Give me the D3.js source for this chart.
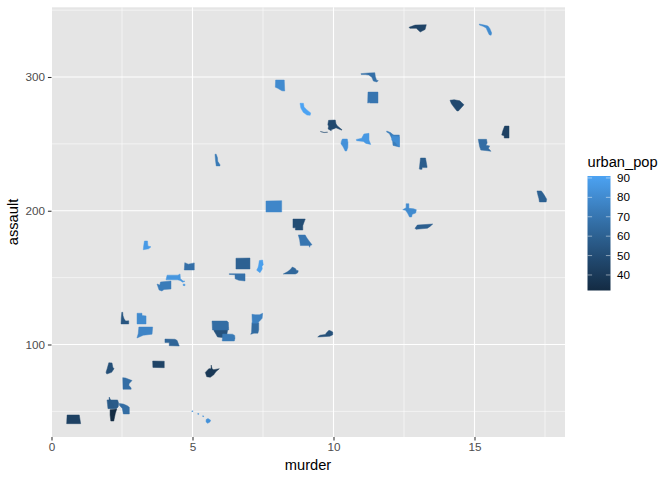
<!DOCTYPE html>
<html><head><meta charset="utf-8">
<script src="https://cdn.jsdelivr.net/npm/d3@7"></script>
<style>html,body{margin:0;padding:0;background:#fff}svg{display:block}text{font-family:"Liberation Sans",Arial,sans-serif}</style>
</head><body><svg id="c" width="672" height="480"></svg>
<script>
const states=["Alabama","Alaska","Arizona","Arkansas","California","Colorado","Connecticut","Delaware","Florida","Georgia","Hawaii","Idaho","Illinois","Indiana","Iowa","Montana","Kansas","Kentucky","Louisiana","Maine","Maryland","Massachusetts","Michigan","Minnesota","Mississippi","Missouri","Nebraska","Nevada","New Hampshire","New Jersey","New Mexico","New York","North Carolina","North Dakota","Ohio","Oklahoma","Oregon","Pennsylvania","Rhode Island","South Carolina","South Dakota","Tennessee","Texas","Utah","Vermont","Virginia","Washington","West Virginia","Wisconsin","Wyoming"];
const murder=[13.2,10,8.1,8.8,9,7.9,3.3,5.9,15.4,17.4,5.3,2.6,10.4,7.2,2.2,6,6,9.7,15.4,2.1,11.3,4.4,12.1,2.7,16.1,9,4.3,12.2,2.1,7.4,11.4,11.1,13,0.8,7.3,6.6,4.9,6.3,3.4,14.4,3.8,13.2,12.7,3.2,2.2,8.5,4,5.7,2.6,6.8];
const assault=[236,263,294,190,276,204,110,238,335,211,46,120,249,113,56,109,115,109,249,83,300,149,255,72,259,178,102,252,57,159,285,254,337,45,120,151,159,106,174,279,86,188,201,120,48,156,145,81,53,161];
const urbanPop=[58,48,80,50,91,78,77,72,80,60,83,54,83,65,57,53,66,52,66,51,67,85,74,66,44,70,62,81,56,89,70,86,45,44,75,68,67,72,87,48,45,59,80,80,32,63,73,39,66,60];
const xTicks=[0,5,10,15], yTicks=[100,200,300], legendTicks=[40,50,60,70,80,90];
// state footprint relative to its (murder, assault) point: left, top, width, height
const footprints=[[-4.4,-4.6,7.7,11.3],[-15.5,-6.5,24,12.7],[-4.6,-5,9.4,11],[-6.7,-5.1,12.3,11],[-5.3,-5.8,10.7,12],[-8.3,-4.7,15.7,11.3],[-7.6,-4.1,15.7,11],[-2.9,-5.7,5,11.7],[-6.5,-6.2,12.4,11.3],[-5.2,-5.1,9.7,11],[-9.3,-6,19,12.6],[-3.8,-5.5,7.7,11.7],[-3.8,-6.2,7,12],[-3.8,-4.4,8,11.6],[-6.5,-3.4,11.7,8.7],[-7.7,-5.5,15,10.5],[-8.7,-3.4,16.7,9],[-7.3,-2.5,15,7],[-7.5,-5.9,12.7,12],[-4.7,-4.5,8,11.3],[-9.2,-4.3,17.3,9.3],[-9.6,-5,19,11.7],[-6,-6.2,12.6,16],[-4.9,-4.3,9.3,11.6],[-3.8,-5.8,7.3,12],[-7,-5.2,13.7,12.3],[-7.8,-2.8,14.3,7],[-3.8,-5.5,7.6,11.3],[-2,-5,5,11],[-3.5,-5.6,6.6,12.7],[-5.3,-5,10.3,11],[-8.2,-5.2,14.4,11.7],[-9.1,-2.8,17.3,7.3],[-7.4,-3.1,14,8.7],[-5.4,-4.5,10.7,10],[-8.3,-2.6,15.7,7.3],[-5.4,-2.9,10,7.3],[-6.9,-2.5,12.7,7],[-4.1,-4.5,7.7,9.7],[-7.6,-5.4,14,11.3],[-6,-2.2,11.6,6.7],[-8.7,-2.8,17.7,5.3],[-6.9,-5.7,13.6,13.3],[-4.7,-4.5,9,10.7],[-4.2,-5,7.4,12],[-7.9,-2.6,15,7],[-7.3,-3.3,14,10],[-6.9,-4.9,14,12.3],[-5.5,-4.4,10,11],[-7.3,-4.9,14,11]];
// outlines in a 0–10 box, one list of rings per state
const outlines=[
[[[1.5,0],[8,0],[10,7.5],[10,8.5],[3.5,8.5],[3.5,10],[.5,10],[0,9.5]]],
[[[4.4,.3],[7.2,0],[7.5,3],[8,4.5],[10,7.7],[9.9,8],[7.5,6.2],[6.5,7],[5.6,7.5],[5.5,8.5],[4.2,7],[4.4,5],[4.1,3.5]],[[1,9],[2.5,9.8],[4,9.6],[4,9.7],[2.5,9.95],[1,9.1]]],
[[[.3,0],[9.5,0],[10,10],[7,9.8],[2.5,7.5],[0,6.5]]],
[[[0,0],[10,0],[9,3],[8,6],[8,10],[2,10],[2,8],[0,8]]],
[[[0,0],[3.2,0],[3.8,3],[6.5,5.5],[10,8],[9.5,10],[6.5,9.8],[3,7.5],[.8,4]]],
[[[0,.3],[10,0],[10,10],[0,10]]],
[[[1.2,0],[10,0],[9.6,6.5],[4,7.5],[0,10],[.8,6]]],
[[[0,0],[2.5,0],[5,3],[5.5,6],[10,9],[10,10],[2.5,10],[1,5]]],
[[[0,0],[5,1.2],[7,1.8],[8.5,4],[10,8],[9.5,10],[8,9.5],[6.5,6],[5.5,3.5],[3,2],[.2,1]]],
[[[0,0],[4.5,0],[7,3],[9,6],[10,7.5],[9.5,10],[2.5,10],[2,7],[1,4]]],
[[[7.6,7],[8.6,6.2],[10,7.5],[9.6,9],[8.4,10],[7.6,9]],[[0,.3],[.6,0],[.7,.6],[.2,.8]],[[3.2,2.2],[3.8,2.3],[3.7,2.9],[3.2,2.8]],[[5.8,4],[6.4,4.2],[6.3,4.7],[5.8,4.6]]],
[[[1,0],[2.2,0],[2.6,3],[4,5.5],[6,7.5],[10,7.3],[10,10],[0,10],[.3,5]]],
[[[2,0],[9,0],[10,3],[9.8,7],[8,10],[6,10],[3,6.5],[0,4],[.5,2]]],
[[[1.5,0],[10,0],[10,6],[9,9],[4,9],[0,10],[1,8.5]]],
[[[0,0],[9,0],[10,4],[9.5,8],[8,10],[.8,10],[.4,5]]],
[[[0,0],[10,0],[9.5,5],[9,9],[6,10],[3,9.5],[2,7],[.8,4]]],
[[[0,0],[9,0],[9.8,1.5],[10,10],[.3,10]]],
[[[0,10],[1.5,7.5],[5,6.5],[6,3.5],[7.5,.5],[8.8,1.5],[10,3],[10,7],[8,9],[.5,10]]],
[[[0,0],[6.5,0],[7,3],[6,5],[9,5.5],[8,7.5],[10,10],[7,9.5],[2,9],[1,6],[.5,3]]],
[[[3.5,0],[7.5,.2],[8.5,4],[10,5.3],[7,8.5],[1,10],[0,8.5],[1.5,5]]],
[[[0,1],[4.5,.3],[8,0],[8.3,4],[9,8],[10,8.5],[9.2,10],[7.2,9],[6.3,5],[4.5,2.5],[2.5,2],[.2,2]]],
[[[.6,1],[6.3,1],[7.4,0],[7.6,4],[9,6],[10,6.2],[8.8,7],[7.4,5.5],[6,5],[0,5]],[[9,8.7],[10,8.7],[10,10],[9,9.8]]],
[[[0,0],[3,1],[6,3],[4,4.5],[2,1.5],[0,.7]],[[4.5,2.5],[10,2.5],[10,10],[5,9],[4.5,5]]],
[[[0,0],[3,.3],[10,2.5],[7,5],[6.5,6.5],[9,9],[9,10],[.3,10]]],
[[[4,0],[10,0],[10,10],[3.5,10],[3.2,8],[0,7.5],[1.5,4]]],
[[[0,0],[5,0],[6.3,2.5],[8,5],[10,8],[8.6,8.6],[8.3,10],[7.8,8.6],[1.5,8.6],[1,4]]],
[[[0,0],[7,.3],[8.5,2],[10,10],[3,9.5],[3,5],[0,5]]],
[[[0,0],[10,1],[10,10],[9,9.5],[5,6],[0,4]]],
[[[1,0],[4,3],[6,6],[10,7],[9,10],[2,10],[.5,4]]],
[[[4,.5],[9,0],[10,4],[8,5],[8.5,7],[5,10],[0,8],[2,6],[3,4]]],
[[[.3,0],[10,0],[10,10],[2,10],[2,9.5],[0,10]]],
[[[0,5.2],[3.7,4.3],[5.3,.6],[8.8,0],[8.8,5.7],[10,9.5],[6.7,8.6],[4.9,6.9],[.2,6.3]]],
[[[0,3.6],[3.5,.5],[10,0],[9.3,6.5],[6.5,10],[4.2,5],[.5,5]]],
[[[.3,0],[9,0],[10,10],[0,10]]],
[[[0,1],[3,1.5],[7,1.5],[10,0],[9.5,5],[7,8],[5,10],[.3,10]]],
[[[0,0],[10,.2],[10,10],[6,9],[3.7,7],[3.6,1.5],[0,1]]],
[[[.5,0],[4,2],[10,.3],[10,10],[0,10]]],
[[[.3,0],[8,.3],[9.8,2],[10,6],[9.5,10],[0,10]]],
[[[1.5,0],[5.5,0],[6,5],[10,6],[7,8],[0,9],[.5,5]]],
[[[0,.5],[3,0],[7,1],[10,4.5],[6,10],[5,10],[3,7],[1,3.5]]],
[[[0,0],[10,.3],[10,10],[.2,9.5]]],
[[[0,8],[1.3,2],[10,0],[8.5,4.5],[7,8],[.5,10]]],
[[[2.5,0],[4.5,0],[4.5,3.5],[8,3.8],[10,4.5],[9.5,7],[7,8],[6.5,10],[5,10],[3.5,7],[2,5],[0,4.5],[2.5,3]]],
[[[0,0],[5.5,0],[5.5,2],[10,2.5],[10,10],[0,10]]],
[[[1,.5],[10,0],[8,4],[6,10],[2,10],[1,5]]],
[[[0,10],[3,6.5],[5,3],[6,0],[8,2],[8.7,4.5],[10,5.5],[9.5,8.5],[8,10]]],
[[[0,3],[2,4],[2.5,1],[10,0],[10,8],[5,8.5],[3.5,10],[1.5,9]]],
[[[0,6],[2.5,3],[4,3],[4.2,0],[4.8,3],[6,3.8],[10,3],[7.5,5.5],[6,8],[3.5,10],[1,9.5]]],
[[[0,.5],[4,1],[8,2.5],[10,4],[10,10],[4,10],[3,5],[0,2]]],
[[[0,.2],[10,0],[10,10],[0,10]]]
];

const pL=52,pR=565,pT=7.3,pB=437;
const svg=d3.select("#c");
const x=d3.scaleLinear().domain([0,15]).range([51.5,474.5]);
const y=d3.scaleLinear().domain([100,300]).range([344.5,77]);
const color=d3.scaleLinear().domain([32,91]).range(["#132B43","#4CA3F3"]).interpolate(d3.interpolateLab);

svg.append("rect").attr("x",pL).attr("y",pT).attr("width",pR-pL).attr("height",pB-pT).attr("fill","#e5e5e5");
const grid=svg.append("g").attr("stroke","#fff").attr("fill","none");
[2.5,7.5,12.5,17.5].forEach(v=>grid.append("line").attr("x1",x(v)).attr("x2",x(v)).attr("y1",pT).attr("y2",pB).attr("stroke-width",.55));
[50,150,250,350].forEach(v=>grid.append("line").attr("y1",y(v)).attr("y2",y(v)).attr("x1",pL).attr("x2",pR).attr("stroke-width",.55));
xTicks.forEach(v=>{if(x(v)>=pL)grid.append("line").attr("x1",x(v)).attr("x2",x(v)).attr("y1",pT).attr("y2",pB).attr("stroke-width",1.1)});
yTicks.forEach(v=>grid.append("line").attr("y1",y(v)).attr("y2",y(v)).attr("x1",pL).attr("x2",pR).attr("stroke-width",1.1));

const ringLine=d3.line().curve(d3.curveLinearClosed);
const marks=svg.append("g");
states.forEach((s,i)=>{
  const [l,t,w,h]=footprints[i];
  const px=x(murder[i]),py=y(assault[i]);
  const sx=d3.scaleLinear().domain([0,10]).range([px+l,px+l+w]);
  const sy=d3.scaleLinear().domain([0,10]).range([py+t,py+t+h]);
  const d=outlines[i].map(r=>ringLine(r.map(p=>[sx(p[0]),sy(p[1])]))).join("");
  marks.append("path").attr("d",d).attr("fill",color(urbanPop[i])).attr("stroke",color(urbanPop[i])).attr("stroke-width",.45).attr("stroke-linejoin","round").attr("data-state",s);
});

const styleAxis=g=>{g.select(".domain").remove();g.selectAll("line").attr("stroke","#333").attr("stroke-width",1.07);g.selectAll("text").attr("fill","#4d4d4d").attr("font-size",11.7).attr("font-family",'"Liberation Sans",Arial,sans-serif')};
svg.append("g").attr("transform",`translate(0,${pB})`).call(d3.axisBottom(x).tickValues(xTicks).tickSize(3.6).tickPadding(2.5)).call(styleAxis);
svg.append("g").attr("transform",`translate(${pL-.5},0)`).call(d3.axisLeft(y).tickValues(yTicks).tickSize(3.6).tickPadding(3)).call(styleAxis);
svg.append("text").attr("x",308).attr("y",470).attr("text-anchor","middle").attr("font-size",14.67).attr("fill","#000").text("murder");
svg.append("text").attr("transform","translate(17.5,222) rotate(-90)").attr("text-anchor","middle").attr("font-size",14.67).attr("fill","#000").text("assault");

// legend
const lgX=587.5,lgW=23;
const lgY=d3.scaleLinear().domain([32,91]).range([290.5,176]);
const defs=svg.append("defs");
const grad=defs.append("linearGradient").attr("id","lg").attr("x1",0).attr("x2",0).attr("y1",1).attr("y2",0);
d3.range(0,21).forEach(k=>{const v=32+59*k/20;grad.append("stop").attr("offset",k/20).attr("stop-color",color(v))});
svg.append("rect").attr("x",lgX).attr("y",lgY(91)).attr("width",lgW).attr("height",lgY(32)-lgY(91)).attr("fill","url(#lg)");
legendTicks.forEach(v=>{
  [[lgX,lgX+4.6],[lgX+lgW-4.6,lgX+lgW]].forEach(e=>svg.append("line").attr("x1",e[0]).attr("x2",e[1]).attr("y1",lgY(v)).attr("y2",lgY(v)).attr("stroke","#fff").attr("stroke-width",.6).attr("stroke-opacity",.8));
  svg.append("text").attr("x",617).attr("y",lgY(v)+4.1).attr("font-size",11.7).attr("fill","#000").text(v);
});
svg.append("text").attr("x",587.5).attr("y",167).attr("font-size",14.67).attr("fill","#000").text("urban_pop");
</script></body></html>
